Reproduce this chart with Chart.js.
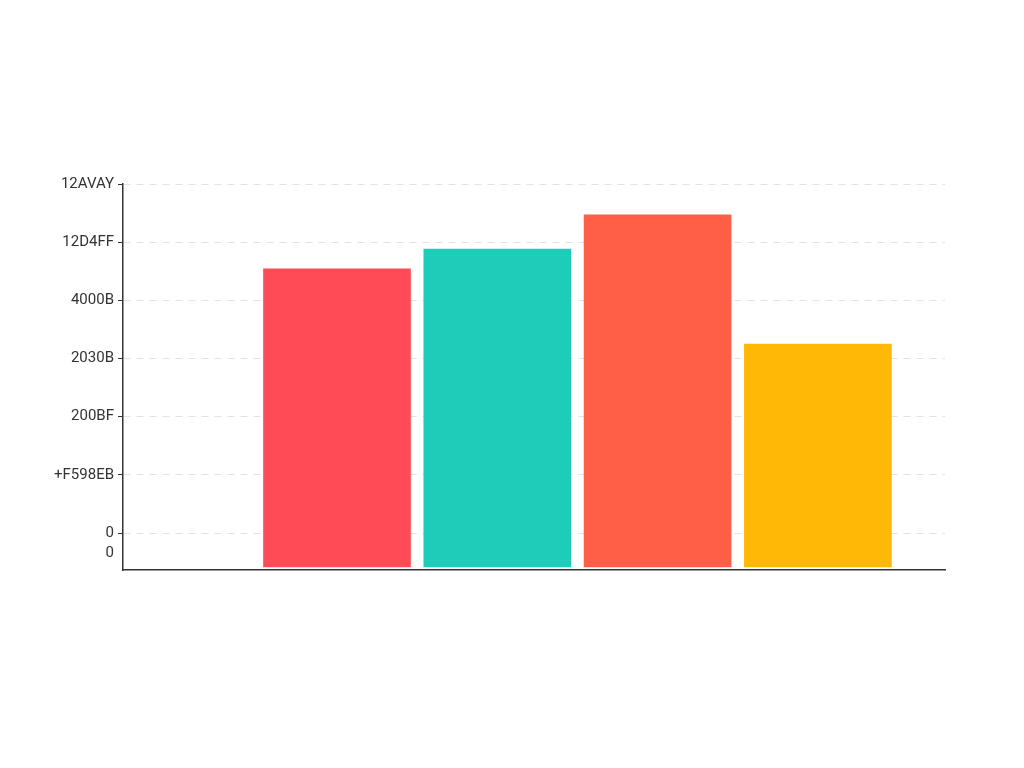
<!DOCTYPE html>
<html>
<head>
<meta charset="utf-8">
<script src="https://cdn.jsdelivr.net/npm/chart.js@4.4.1/dist/chart.umd.min.js"></script>
<style>
  html, body { margin: 0; padding: 0; background: #ffffff; }
  #wrap { width: 1024px; height: 768px; position: relative; }
</style>
</head>
<body>
<div id="wrap"><canvas id="c" width="1024" height="768"></canvas></div>
<script>
// ---- data ----
const categories = ['A', 'B', 'C', 'D'];
const values = [4.54, 4.88, 5.47, 3.25];
const barColors = ['#FF4B55', '#1ECDB9', '#FF5F47', '#FFB805'];
const tickValues = [0, 1, 2, 3, 4, 5, 6];
const tickLabels = ['0', '+F598EB', '200BF', '2030B', '4000B', '12D4FF', '12AVAY'];
const extraTickValue = -0.344;
const extraTickLabel = '0';

const yMin = -0.636;
const yMax = 6;
const barBase = -0.585;

const points = categories.map((c, i) => ({ x: i + 1, y: values[i] }));

new Chart(document.getElementById('c'), {
  type: 'bar',
  data: {
    datasets: [{
      label: 'Series',
      data: points,
      backgroundColor: barColors,
      borderWidth: 0,
      base: barBase,
      barThickness: 147
    }]
  },
  options: {
    responsive: false,
    animation: false,
    devicePixelRatio: 1,
    layout: { padding: { left: 0, right: 79, top: 184, bottom: 190 } },
    plugins: { legend: { display: false }, tooltip: { enabled: false } },
    scales: {
      x: {
        type: 'linear',
        offset: false,
        min: -0.335,
        max: 4.793,
        ticks: { display: false },
        grid: { display: false },
        border: { display: true, color: '#333333', width: 1.5 }
      },
      y: {
        type: 'linear',
        min: yMin,
        max: yMax,
        afterFit: (s) => { s.width = 123; s.paddingTop = 0; s.paddingBottom = 0; },
        afterBuildTicks: (s) => {
          s.ticks = tickValues.map(v => ({ value: v })).concat([{ value: extraTickValue }]);
        },
        ticks: {
          autoSkip: false,
          padding: 4,
          color: '#333333',
          font: { family: 'Roboto', size: 15 },
          callback: (v) => {
            if (Math.abs(v - extraTickValue) < 1e-6) return extraTickLabel;
            const i = tickValues.indexOf(v);
            return i >= 0 ? tickLabels[i] : '';
          }
        },
        grid: {
          drawOnChartArea: true,
          tickLength: 5,
          color: (ctx) => (ctx.tick && Math.abs(ctx.tick.value - extraTickValue) < 1e-6) ? 'rgba(0,0,0,0)' : '#e2e2e2',
          tickColor: (ctx) => (ctx.tick && Math.abs(ctx.tick.value - extraTickValue) < 1e-6) ? 'rgba(0,0,0,0)' : '#333333',
          lineWidth: 1
        },
        border: { display: true, color: '#333333', width: 1.5, dash: [7, 6] }
      }
    }
  }
});
</script>
</body>
</html>
